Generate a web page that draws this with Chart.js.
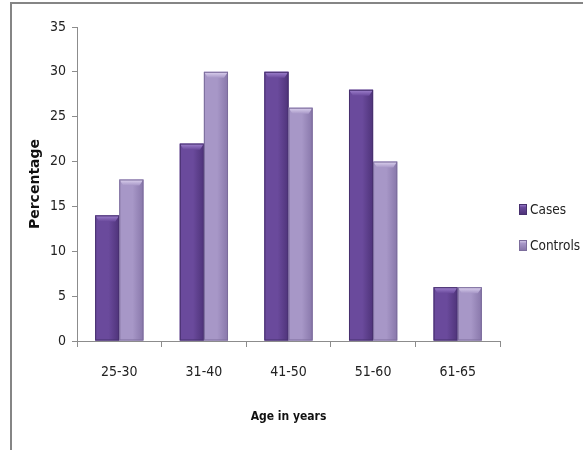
<!DOCTYPE html>
<html>
<head>
<meta charset="utf-8">
<title>Age distribution of cases and controls</title>
<script src="https://cdn.jsdelivr.net/npm/chart.js@4.4.1/dist/chart.umd.min.js"></script>
<style>
  html, body { margin: 0; padding: 0; background: #ffffff; }
  #wrap { position: relative; width: 583px; height: 450px; }
</style>
</head>
<body>
<div id="wrap"><canvas id="chart" width="583" height="450"></canvas></div>
<script>
// Age groups and percentage of subjects in each group
const ageGroups = ['25-30', '31-40', '41-50', '51-60', '61-65'];
const casesPct = [14, 22, 30, 28, 6];
const controlsPct = [18, 30, 26, 20, 6];
const yTicks = [0, 5, 10, 15, 20, 25, 30, 35];

const NARROW = '"DejaVu Sans Condensed", "Liberation Sans Narrow", sans-serif';

const palette = {
  cases:    { base: '#6a4a9c', light: '#a184d0', dark: '#4e3379', edge: '#47306e' },
  controls: { base: '#a797c7', light: '#ded4f0', dark: '#8877aa', edge: '#7c6d9c' }
};

// Outer frame of the chart object
const framePlugin = {
  id: 'frame',
  beforeDraw(chart) {
    const ctx = chart.ctx;
    ctx.save();
    ctx.strokeStyle = '#858585';
    ctx.lineWidth = 2;
    ctx.beginPath();
    ctx.moveTo(11, chart.height + 2);
    ctx.lineTo(11, 3);
    ctx.lineTo(chart.width + 2, 3);
    ctx.stroke();
    ctx.restore();
  }
};

// Shading and bevelled tops on each bar, using the bar geometry computed by Chart.js
const bevelPlugin = {
  id: 'bevel',
  afterDatasetsDraw(chart) {
    const ctx = chart.ctx;
    chart.data.datasets.forEach((ds, i) => {
      const meta = chart.getDatasetMeta(i);
      const pal = ds._pal;
      meta.data.forEach(bar => {
        const { x, y, base, width } = bar.getProps(['x', 'y', 'base', 'width'], true);
        const l = x - width / 2, r = x + width / 2;
        const h = base - y;
        ctx.save();
        // horizontal shading
        const g = ctx.createLinearGradient(l, 0, r, 0);
        g.addColorStop(0, pal.base);
        g.addColorStop(0.55, pal.base);
        g.addColorStop(1, pal.dark);
        ctx.fillStyle = g;
        ctx.fillRect(l, y, width, h);
        // bevel on the top edge
        const bv = Math.min(6, h / 2);
        const gt = ctx.createLinearGradient(0, y, 0, y + bv);
        gt.addColorStop(0, pal.light);
        gt.addColorStop(1, pal.base);
        ctx.fillStyle = gt;
        ctx.beginPath();
        ctx.moveTo(l, y);
        ctx.lineTo(r, y);
        ctx.lineTo(r - 4, y + bv);
        ctx.lineTo(l + 4, y + bv);
        ctx.closePath();
        ctx.fill();
        // outline
        ctx.strokeStyle = pal.edge;
        ctx.lineWidth = 1;
        ctx.strokeRect(l + 0.5, y + 0.5, width - 1, h - 1);
        ctx.restore();
      });
    });
  }
};

// Legend on the right side, built from the datasets
const legendPlugin = {
  id: 'sideLegend',
  afterDraw(chart) {
    const ctx = chart.ctx;
    const x0 = 519, y0 = 209, gap = 36;
    ctx.save();
    chart.data.datasets.forEach((ds, i) => {
      const pal = ds._pal;
      const cy = y0 + i * gap;
      const g = ctx.createLinearGradient(x0, cy - 5, x0, cy + 5);
      g.addColorStop(0, pal.light);
      g.addColorStop(0.35, pal.base);
      g.addColorStop(1, pal.dark);
      ctx.fillStyle = g;
      ctx.fillRect(x0, cy - 5, 8, 11);
      ctx.strokeStyle = pal.edge;
      ctx.lineWidth = 1;
      ctx.strokeRect(x0 + 0.5, cy - 4.5, 7, 10);
      ctx.fillStyle = '#222222';
      ctx.font = '13.5px ' + NARROW;
      ctx.textAlign = 'left';
      ctx.textBaseline = 'middle';
      ctx.fillText(ds.label, x0 + 11, cy + 1);
    });
    ctx.restore();
  }
};

new Chart(document.getElementById('chart'), {
  type: 'bar',
  data: {
    labels: ageGroups,
    datasets: [
      { label: 'Cases', data: casesPct, backgroundColor: palette.cases.base, _pal: palette.cases },
      { label: 'Controls', data: controlsPct, backgroundColor: palette.controls.base, _pal: palette.controls }
    ]
  },
  options: {
    responsive: false,
    animation: false,
    devicePixelRatio: 1,
    layout: { padding: { left: 0, top: 27, right: 83, bottom: 0 } },
    datasets: { bar: { categoryPercentage: 0.57, barPercentage: 1.0 } },
    plugins: {
      legend: { display: false },
      tooltip: { enabled: false }
    },
    scales: {
      x: {
        afterFit(scale) { scale.height = 109; },
        grid: {
          display: true, drawOnChartArea: false, offset: true,
          color: '#8c8c8c', tickLength: 6, lineWidth: 1
        },
        border: { display: true, color: '#8c8c8c', width: 1 },
        ticks: { color: '#222222', font: { family: NARROW, size: 14 }, padding: 17, maxRotation: 0 },
        title: {
          display: true, text: 'Age in years', color: '#111111',
          font: { family: NARROW, size: 12, weight: 'bold' },
          padding: { top: 0, bottom: 26 }
        }
      },
      y: {
        min: 0, max: 35,
        afterFit(scale) { scale.width = 77; },
        afterBuildTicks(scale) { scale.ticks = yTicks.map(v => ({ value: v })); },
        grid: {
          display: true, drawOnChartArea: false,
          color: '#8c8c8c', tickLength: 5, lineWidth: 1
        },
        border: { display: true, color: '#8c8c8c', width: 1 },
        ticks: { color: '#222222', font: { family: NARROW, size: 14 }, padding: 6 },
        title: {
          display: true, text: 'Percentage', color: '#111111',
          font: { family: '"DejaVu Sans", Verdana, sans-serif', size: 14, weight: 'bold' },
          padding: { top: 27, bottom: 0 }
        }
      }
    }
  },
  plugins: [framePlugin, bevelPlugin, legendPlugin]
});
</script>
</body>
</html>
